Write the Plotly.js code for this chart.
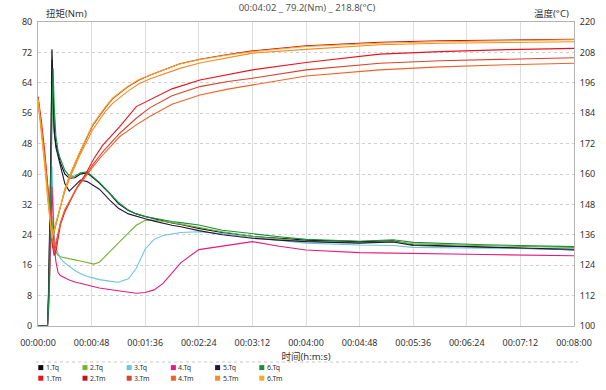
<!DOCTYPE html>
<html><head><meta charset="utf-8">
<script src="https://cdn.plot.ly/plotly-3.0.1.min.js"></script>
<style>html,body{margin:0;padding:0;background:#fff}#chart{width:606px;height:390px}</style>
</head><body><div id="chart"></div>
<script>
// ---- data ----
const TIME_TICKS = [0,48,96,144,192,240,288,336,384,432,480];
const TIME_LABELS = ['00:00:00','00:00:48','00:01:36','00:02:24','00:03:12','00:04:00','00:04:48','00:05:36','00:06:24','00:07:12','00:08:00'];

const TQ_NAMES = ['1.Tq','2.Tq','3.Tq','4.Tq','5.Tq','6.Tq'];
const TM_NAMES = ['1.Tm','2.Tm','3.Tm','4.Tm','5.Tm','6.Tm'];
const TQ_COLORS = ['#0a0a0a','#78b030','#6cc5dc','#e31c82','#22163e','#169040'];
const TM_COLORS = ['#e8141c','#c0141c','#d8442a','#f0622a','#f48a28','#f8aa1c'];

// torque time (s)
const TQ_T = [0,8.5,9.5,10.5,11.5,12.5,13.5,14.5,16,18,20,24,28,33,38,44,50,55,64,72,81,88,96,104,112,120,128,144,165,192,216,240,288,318,336,400,480];
const TQ1 = [0,0,10,25,45,72.8,60,52,48,45,43,40,38.9,39,40,40.3,38.8,37.6,34.9,32.2,30.4,29.5,28.8,28.2,27.6,27.1,26.7,25.7,24.6,23.6,23.1,22.6,22.2,22.4,21.4,20.8,20.0];
const TQ2 = [0,0,4,12,22,29,24,21,19.5,18.6,18.2,17.9,17.7,17.4,17.1,16.7,16.3,16.8,19.5,22,24.5,26.5,27.8,27.9,27.6,27.2,26.8,25.9,24.8,23.6,22.9,22.3,21.9,22.2,21.6,21.1,20.7];
const TQ3 = [0,0,6,15,28,41.9,32,24,20.5,19,17.8,16.6,15.6,14.6,13.8,13,12.6,12.2,11.8,11.5,12.4,15.2,20.2,22.8,23.8,24.3,24.6,24.8,24.3,23.3,22.5,21.8,21.3,21.2,20.7,20.4,20.2];
const TQ4 = [0,0,5,13,25,36.7,27,21,17,14,13.3,12.7,12.1,11.6,11.2,10.8,10.4,10.0,9.6,9.3,8.9,8.6,8.8,9.5,11.2,14,16.7,20.1,21,22.2,21,20,19.3,19.2,19.2,18.8,18.5];
const TQ5 = [0,0,8,22,42,70,58,51,47,44.5,42.5,37.5,35.5,37,38.4,38,37,36,33.2,31,29.5,28.8,28.2,27.6,27,26.5,26.1,25.1,24,23.1,22.6,22.2,21.8,22.1,21.2,20.7,20.2];
const TQ6 = [0,0,6,18,38,55,67.8,58,50,46,44,41,39.5,39.4,40.3,40.6,39,37.8,35,32.5,30.5,29.5,28.8,28.3,27.9,27.5,27.2,26.6,25.2,24.2,23.5,22.8,22.3,22.7,22.0,21.4,20.9];

// temperature time (s)
const TM_T_FAST = [0,3,6,9,11,12.5,14,17,20,24,28.6,37,49,60,67,80,90,100,127,145,170,192,240,306,360,420,480];
const TM_T_SLOW = [0,3,6,9,11,13,14.5,16,18,20,24,28.6,35,43,50,58,73,88,100,120,145,170,192,240,306,360,420,480];
const TM1 = [190.5,181,169,155.5,143.5,131.5,127.8,129.3,134.5,139.8,145,149,154.8,160.3,166,171.4,178.6,186.6,189.3,193.6,197.1,199.3,201.1,204,207.3,208.3,209.1,209.6];
const TM2 = [190.5,179,166,151,141,135,136.5,141.5,147,153.8,159.5,168,179.2,186,189.8,194.3,197,199,203.5,205.3,207.2,208.6,210.6,212,212.6,213,213.2];
const TM3 = [189.3,179.5,167.5,154,142.8,133,130,131.5,136,140.5,145.8,149.5,154.8,159.7,164.2,168.7,176,182,186.1,190.9,194.5,196.5,197.8,201.1,203.7,204.7,205.3,205.9];
const TM4 = [188.5,178.8,166.8,153.3,142,133.8,131.5,133,136.8,140.5,145.8,149.5,154.5,159.1,163.3,167.5,174.7,179.4,182.7,187.5,191.2,193.5,195.1,198.7,201.1,202.3,203.1,203.7];
const TM5 = [189,177,163.5,149,140,135.5,137.5,142.5,147,153,158.5,167,177.5,184.5,188,192.5,195.5,197.5,201.7,203.8,206,207.7,209.2,211,211.6,212,212.2];
const TM6 = [190,178,164.5,149.5,139.8,134.5,136.8,142,147.3,154,159.7,168.3,179.5,186.3,190,194.5,197.2,199,203.4,205.2,207,208.3,210.3,211.6,212.2,212.7,213];

const TQ_SERIES = [TQ1,TQ2,TQ3,TQ4,TQ5,TQ6];
const TM_SERIES = [TM1,TM2,TM3,TM4,TM5,TM6];
const TM_TIMES = [TM_T_SLOW,TM_T_FAST,TM_T_SLOW,TM_T_SLOW,TM_T_FAST,TM_T_FAST];

// ---- traces ----
const traces = [];
TM_SERIES.forEach((s,i)=>traces.push({x:TM_TIMES[i],y:s,name:TM_NAMES[i],type:'scatter',mode:'lines',
  yaxis:'y2',line:{color:TM_COLORS[i],width:1.1},showlegend:false,hoverinfo:'skip'}));
TQ_SERIES.forEach((s,i)=>traces.push({x:TQ_T,y:s,name:TQ_NAMES[i],type:'scatter',mode:'lines',
  line:{color:TQ_COLORS[i],width:1.1},showlegend:false,hoverinfo:'skip'}));

// ---- layout geometry ----
const W=606,H=390,L=38,R=32,T=22,B=64;
const pw=W-L-R, ph=H-T-B;
const px=v=>(v-L)/pw, py=v=>(H-B-v)/ph;

const shapes=[], annotations=[];
// dotted separator above legend
shapes.push({type:'line',xref:'paper',yref:'paper',x0:px(36),x1:px(578),y0:py(362),y1:py(362),
  line:{color:'#c8c8c8',width:1,dash:'dot'}});
// legend (manual)
const LEG_X0=38.3, LEG_DX=44.2, ROWS=[367.6,378.2];
[[TQ_NAMES,TQ_COLORS],[TM_NAMES,TM_COLORS]].forEach(([names,cols],r)=>{
  names.forEach((n,i)=>{
    const x=LEG_X0+i*LEG_DX, y=ROWS[r];
    shapes.push({type:'rect',xref:'paper',yref:'paper',x0:px(x),x1:px(x+5),y0:py(y-2.5),y1:py(y+2.5),
      fillcolor:cols[i],line:{width:0}});
    annotations.push({xref:'paper',yref:'paper',x:px(x+6.4),y:py(y),xanchor:'left',yanchor:'middle',
      text:n,showarrow:false,font:{size:7,color:'#333'},borderpad:0});
  });
});
annotations.push({xref:'paper',yref:'paper',x:px(44),y:py(13.5),xanchor:'left',yanchor:'middle',
  text:'扭矩(Nm)',showarrow:false,font:{size:9.5,color:'#333'}});
annotations.push({xref:'paper',yref:'paper',x:px(571),y:py(13.5),xanchor:'right',yanchor:'middle',
  text:'温度(°C)',showarrow:false,font:{size:9.5,color:'#333'}});

const FONT='"Noto Sans", "Noto Sans CJK SC", sans-serif';
const layout={
  width:W,height:H,margin:{l:L,r:R,t:T,b:B},
  paper_bgcolor:'#fff',plot_bgcolor:'#fff',
  font:{family:FONT,size:9,color:'#333'},
  title:{text:'00:04:02 _ 79.2(Nm) _ 218.8(°C)',x:px(307),xref:'paper',xanchor:'center',
    y:1-8/H,yref:'container',yanchor:'middle',font:{size:9.5,color:'#555'}},
  xaxis:{range:[0,480],tickvals:TIME_TICKS,ticktext:TIME_LABELS,showgrid:true,gridcolor:'#dedede',
    showline:true,linecolor:'#b4b4b4',mirror:true,zeroline:false,ticks:'',ticklabelstandoff:8,
    tickfont:{size:9,color:'#333'},
    title:{text:'时间(h:m:s)',font:{size:9.5,color:'#333'},standoff:5}},
  yaxis:{range:[0,80],dtick:8,tick0:0,showgrid:true,gridcolor:'#cfcfcf',griddash:'dot',
    showline:true,linecolor:'#b4b4b4',mirror:true,zeroline:false,ticks:'',ticklabelstandoff:3,
    tickfont:{size:9,color:'#333'}},
  yaxis2:{range:[100,220],dtick:12,tick0:100,overlaying:'y',side:'right',showgrid:false,
    showline:true,linecolor:'#b4b4b4',zeroline:false,ticks:'',ticklabelstandoff:3,
    tickfont:{size:9,color:'#333'}},
  shapes:shapes,annotations:annotations,showlegend:false
};
Plotly.newPlot('chart',traces,layout,{displayModeBar:false,staticPlot:true});
</script></body></html>
